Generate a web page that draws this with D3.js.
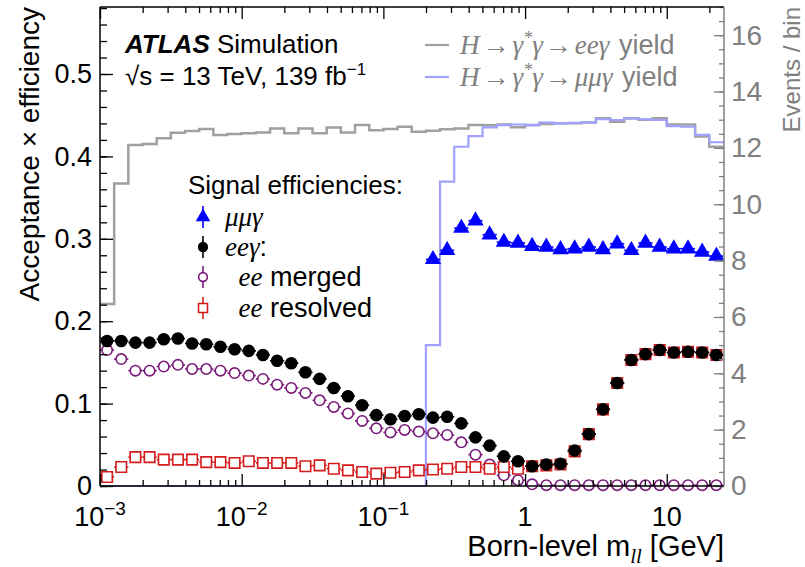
<!DOCTYPE html>
<html>
<head>
<meta charset="utf-8">
<script src="https://cdn.jsdelivr.net/npm/d3@7"></script>
<style>
body { margin: 0; background: #fff; }
text { font-family: "Liberation Sans", Arial, sans-serif; }
.serif { font-family: "Liberation Serif", "Times New Roman", serif; font-style: italic; }
</style>
</head>
<body>
<div id="chart"></div>
<script>
// bin edges (log10 of m_ll in GeV)
var binEdgesLog = [-3.0,-2.9,-2.8,-2.7,-2.6,-2.5,-2.4,-2.3,-2.2,-2.1,
  -2.0,-1.9,-1.8,-1.7,-1.6,-1.5,-1.4,-1.3,-1.2,-1.1,
  -1.0,-0.9,-0.8,-0.7,-0.6,-0.5,-0.4,-0.3,-0.2,-0.1,
  0.0,0.1,0.2,0.3,0.4,0.5,0.6,0.7,0.8,0.9,
  1.0,1.1,1.2,1.3,1.4];

// signal efficiencies (left axis)
var effEEG = [0.176,0.176,0.174,0.174,0.178,0.179,0.173,0.172,0.169,0.166,
  0.164,0.159,0.152,0.149,0.138,0.130,0.119,0.109,0.098,0.086,
  0.081,0.085,0.087,0.083,0.084,0.076,0.059,0.049,0.036,0.030,
  0.024,0.026,0.027,0.043,0.063,0.093,0.125,0.153,0.160,0.165,
  0.162,0.163,0.162,0.159];
var effMerged = [0.165,0.154,0.140,0.140,0.145,0.147,0.142,0.142,0.140,0.137,
  0.134,0.130,0.123,0.119,0.113,0.104,0.096,0.088,0.079,0.070,
  0.065,0.068,0.066,0.064,0.062,0.053,0.038,0.026,0.013,0.007,
  0.002,0.001,0.001,0.001,0.001,0.001,0.001,0.001,0.001,0.001,
  0.001,0.001,0.001,0.001];
var effResolved = [0.011,0.023,0.035,0.035,0.032,0.032,0.032,0.029,0.029,0.028,
  0.030,0.028,0.028,0.028,0.024,0.025,0.021,0.019,0.017,0.015,
  0.016,0.017,0.019,0.020,0.021,0.023,0.023,0.021,0.023,0.021,
  0.024,0.025,0.026,0.042,0.063,0.093,0.125,0.153,0.160,0.165,
  0.162,0.163,0.162,0.159];
var effMMG = [null,null,null,null,null,null,null,null,null,null,
  null,null,null,null,null,null,null,null,null,null,
  null,null,null,0.275,0.286,0.313,0.322,0.305,0.296,0.295,
  0.291,0.290,0.287,0.288,0.290,0.287,0.294,0.286,0.295,0.290,
  0.288,0.288,0.284,0.279];

// expected yields (right axis, events / bin)
var yieldEEG = [6.46,10.74,12.10,12.14,12.34,12.54,12.60,12.67,12.46,12.49,
  12.52,12.55,12.69,12.52,12.69,12.52,12.72,12.55,12.81,12.63,
  12.67,12.75,12.57,12.61,12.66,12.69,12.81,12.80,12.83,12.73,
  12.81,12.85,12.87,12.87,12.90,13.05,12.93,13.05,13.00,13.05,
  12.83,12.83,12.40,12.04];
var yieldMMG = [0,0,0,0,0,0,0,0,0,0,
  0,0,0,0,0,0,0,0,0,0,
  0,0,0,5.00,10.80,12.04,12.42,12.73,12.81,12.83,
  12.81,12.90,12.87,12.89,12.90,13.02,12.99,13.05,13.01,12.99,
  12.77,12.75,12.46,12.20];

// tick values
var xMajorTicks = [0.001, 0.01, 0.1, 1, 10];
var xTickLabels = [["10","\u22123"],["10","\u22122"],["10","\u22121"],["1",""],["10",""]];
var yLeftTicks = [0, 0.1, 0.2, 0.3, 0.4, 0.5];
var yRightTicks = [0, 2, 4, 6, 8, 10, 12, 14, 16];

var W = 805, H = 567;
var margin = {top: 7, right: 81, bottom: 81, left: 100},
    width = W - margin.left - margin.right,
    height = H - margin.top - margin.bottom;

var grey = "#a0a0a0", greyText = "#808080";

var svg = d3.select("#chart").append("svg")
  .attr("width", W)
  .attr("height", H);

var g = svg.append("g")
  .attr("transform", "translate(" + margin.left + "," + margin.top + ")");

// scales
var x = d3.scaleLog()
  .domain([1e-3, Math.pow(10, 1.404)])
  .range([0, width]);
var yL = d3.scaleLinear()
  .domain([0, 0.5813])
  .range([height, 0]);
var yR = d3.scaleLinear()
  .domain([0, 17])
  .range([height, 0]);

var bins = d3.range(binEdgesLog.length - 1).map(function(i) {
  return {lo: Math.pow(10, binEdgesLog[i]), hi: Math.pow(10, binEdgesLog[i + 1]),
          c: Math.pow(10, (binEdgesLog[i] + binEdgesLog[i + 1]) / 2), i: i};
});

// histogram step lines
function stepPoints(vals) {
  var pts = [];
  bins.forEach(function(b) {
    pts.push([b.lo, vals[b.i]]);
    pts.push([b.hi, vals[b.i]]);
  });
  return pts;
}
var stepLine = d3.line()
  .x(function(d) { return x(d[0]); })
  .y(function(d) { return yR(d[1]); });

g.append("path")
  .attr("d", stepLine(stepPoints(yieldEEG)))
  .attr("fill", "none")
  .attr("stroke", grey)
  .attr("stroke-width", 2.5);

g.append("path")
  .attr("d", stepLine(stepPoints(yieldMMG)))
  .attr("fill", "none")
  .attr("stroke", "#a0a0ff")
  .attr("stroke-width", 2.2);

// points with horizontal (bin width) error bars
function drawSeries(vals, color, shape, fill, size) {
  var data = bins.filter(function(b) { return vals[b.i] !== null; });
  var s = g.append("g");
  s.selectAll("line")
    .data(data)
    .enter().append("line")
    .attr("x1", function(d) { return x(d.lo); })
    .attr("x2", function(d) { return x(d.hi); })
    .attr("y1", function(d) { return yL(vals[d.i]); })
    .attr("y2", function(d) { return yL(vals[d.i]); })
    .attr("stroke", color)
    .attr("stroke-width", 1.6);
  s.selectAll("path")
    .data(data)
    .enter().append("path")
    .attr("transform", function(d) { return "translate(" + x(d.c) + "," + yL(vals[d.i]) + ")"; })
    .attr("d", d3.symbol().type(shape).size(size))
    .attr("fill", fill)
    .attr("stroke", color)
    .attr("stroke-width", 1.6);
}

drawSeries(effMerged, "#7a1a7a", d3.symbolCircle, "#fff", 85);
drawSeries(effResolved, "#d41c1c", d3.symbolSquare, "#fff", 110);
drawSeries(effEEG, "#000", d3.symbolCircle, "#000", 95);
drawSeries(effMMG, "#0000ff", d3.symbolTriangle, "#0000ff", 80);

// axes
var xMinor = x.ticks().filter(function(v) { return xMajorTicks.indexOf(v) < 0; });

g.append("g")
  .attr("transform", "translate(0," + height + ")")
  .call(d3.axisBottom(x).tickValues(xMinor).tickSizeInner(-6).tickSizeOuter(0).tickFormat(""));
g.append("g")
  .attr("transform", "translate(0," + height + ")")
  .call(d3.axisBottom(x).tickValues(xMajorTicks).tickSizeInner(-12).tickSizeOuter(0).tickFormat(""));
g.append("g")
  .call(d3.axisTop(x).tickValues(xMinor).tickSizeInner(-6).tickSizeOuter(0).tickFormat(""));
g.append("g")
  .call(d3.axisTop(x).tickValues(xMajorTicks).tickSizeInner(-12).tickSizeOuter(0).tickFormat(""));

// x tick labels with superscripts
xMajorTicks.forEach(function(v, i) {
  var t = g.append("text")
    .attr("x", x(v))
    .attr("y", height + 40)
    .attr("text-anchor", "middle")
    .style("font-size", "27px");
  t.append("tspan").text(xTickLabels[i][0]);
  if (xTickLabels[i][1]) {
    t.append("tspan").attr("dy", -11).style("font-size", "19px").text(xTickLabels[i][1]);
  }
});

g.append("g")
  .call(d3.axisLeft(yL).ticks(30).tickSizeInner(-7).tickSizeOuter(0).tickFormat(""));
g.append("g")
  .call(d3.axisLeft(yL).tickValues(yLeftTicks).tickSizeInner(-13).tickSizeOuter(0).tickPadding(8)
    .tickFormat(function(d) { return d === 0 ? "0" : d3.format(".1f")(d); }))
  .selectAll("text")
  .style("font-size", "27px")
  .attr("fill", "#000");

var yr1 = g.append("g")
  .attr("transform", "translate(" + width + ",0)")
  .call(d3.axisRight(yR).ticks(34).tickSizeInner(-5).tickSizeOuter(0).tickFormat(""));
var yr2 = g.append("g")
  .attr("transform", "translate(" + width + ",0)")
  .call(d3.axisRight(yR).tickValues(yRightTicks).tickSizeInner(-10).tickSizeOuter(0).tickPadding(7));
yr2.selectAll("text").style("font-size", "28px").attr("fill", greyText);
[yr1, yr2].forEach(function(a) {
  a.selectAll("line").attr("stroke", greyText);
});

g.selectAll(".domain").remove();
g.selectAll(".tick line").attr("stroke-width", 1.3);

// frame
g.append("line").attr("x1", 0).attr("x2", width).attr("y1", 0).attr("y2", 0).attr("stroke", "#000").attr("stroke-width", 1.5);
g.append("line").attr("x1", 0).attr("x2", width).attr("y1", height).attr("y2", height).attr("stroke", "#000").attr("stroke-width", 1.5);
g.append("line").attr("x1", 0).attr("x2", 0).attr("y1", 0).attr("y2", height).attr("stroke", "#000").attr("stroke-width", 1.5);
g.append("line").attr("x1", width).attr("x2", width).attr("y1", 0).attr("y2", height).attr("stroke", greyText).attr("stroke-width", 1.5);

// axis titles
svg.append("text")
  .attr("transform", "translate(39," + margin.top + ") rotate(-90)")
  .attr("text-anchor", "end")
  .style("font-size", "28px")
  .text("Acceptance \u00d7 efficiency");

svg.append("text")
  .attr("transform", "translate(800," + margin.top + ") rotate(-90)")
  .attr("text-anchor", "end")
  .style("font-size", "24px")
  .attr("fill", greyText)
  .text("Events / bin");

var xt = svg.append("text")
  .attr("x", margin.left + width)
  .attr("y", 556)
  .attr("text-anchor", "end")
  .style("font-size", "29px");
xt.append("tspan").text("Born-level m");
xt.append("tspan").attr("class", "serif").attr("dy", 7).style("font-size", "21px").text("ll");
xt.append("tspan").attr("dy", -7).text(" [GeV]");

// ATLAS label
var at = svg.append("text").attr("x", 125).attr("y", 53).style("font-size", "26px");
at.append("tspan").style("font-weight", "bold").style("font-style", "italic").text("ATLAS");
at.append("tspan").text(" Simulation");
var lum = svg.append("text").attr("x", 125).attr("y", 85).style("font-size", "26px");
lum.append("tspan").text("\u221as = 13 TeV, 139 fb");
lum.append("tspan").attr("dy", -10).style("font-size", "17px").text("\u22121");

// yield legend (top right)
function yieldLegend(yc, color, lep) {
  svg.append("line")
    .attr("x1", 425).attr("x2", 449)
    .attr("y1", yc).attr("y2", yc)
    .attr("stroke", color).attr("stroke-width", 2.2);
  var t = svg.append("text").attr("x", 460).attr("y", yc + 9).style("font-size", "27px").attr("fill", greyText);
  t.append("tspan").attr("class", "serif").text("H");
  t.append("tspan").attr("class", "serif").attr("dx", 3).style("font-style", "normal").text("\u2192");
  t.append("tspan").attr("class", "serif").attr("dx", 3).text("\u03b3");
  t.append("tspan").attr("class", "serif").attr("dy", -10).style("font-size", "18px").text("*");
  t.append("tspan").attr("class", "serif").attr("dy", 10).text("\u03b3");
  t.append("tspan").attr("class", "serif").attr("dx", 2).style("font-style", "normal").text("\u2192");
  t.append("tspan").attr("class", "serif").attr("dx", 3).text(lep + "\u03b3");
  t.append("tspan").attr("dx", 2).text(" yield");
}
yieldLegend(45, grey, "ee");
yieldLegend(77, "#a0a0ff", "\u03bc\u03bc");

// signal efficiency legend
svg.append("text").attr("x", 188).attr("y", 194).style("font-size", "26px").text("Signal efficiencies:");

var legendRows = [
  {y: 217, color: "#0000ff", shape: d3.symbolTriangle, fill: "#0000ff", ital: "\u03bc\u03bc\u03b3", rest: ""},
  {y: 247, color: "#000", shape: d3.symbolCircle, fill: "#000", ital: "ee\u03b3", rest: ":"},
  {y: 277, color: "#7a1a7a", shape: d3.symbolCircle, fill: "#fff", ital: "\u00a0\u00a0ee", rest: " merged"},
  {y: 308, color: "#d41c1c", shape: d3.symbolSquare, fill: "#fff", ital: "\u00a0\u00a0ee", rest: " resolved"}
];
legendRows.forEach(function(r) {
  svg.append("line")
    .attr("x1", 203).attr("x2", 203)
    .attr("y1", r.y - 11).attr("y2", r.y + 11)
    .attr("stroke", r.color).attr("stroke-width", 1.6);
  svg.append("path")
    .attr("transform", "translate(203," + r.y + ")")
    .attr("d", d3.symbol().type(r.shape).size(r.shape === d3.symbolSquare ? 80 : 60))
    .attr("fill", r.fill)
    .attr("stroke", r.color)
    .attr("stroke-width", 1.6);
  var t = svg.append("text").attr("x", 225).attr("y", r.y + 9).style("font-size", "27px");
  t.append("tspan").attr("class", "serif").text(r.ital);
  if (r.rest) t.append("tspan").text(r.rest);
});
</script>
</body>
</html>
